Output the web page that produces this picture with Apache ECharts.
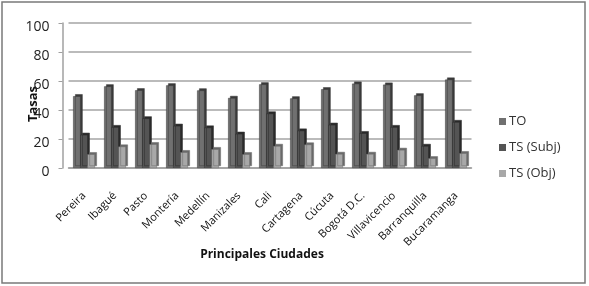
<!DOCTYPE html>
<html><head><meta charset="utf-8">
<script src="https://cdn.jsdelivr.net/npm/echarts@6/dist/echarts.min.js"></script>
<style>html,body{margin:0;padding:0;background:#fff}#c{width:589px;height:286px}</style>
</head><body><div id="c"></div>
<script>
const categories = ["Pereira","Ibagué","Pasto","Montería","Medellín","Manizales","Cali","Cartagena","Cúcuta","Bogotá D.C.","Villavicencio","Barranquilla","Bucaramanga"];
const seriesNames = ["TO","TS (Subj)","TS (Obj)"];
const valuesTO   = [49.5,56.3,53.6,57.0,53.5,48.3,57.7,48.0,54.3,58.2,57.5,50.1,61.0];
const valuesSubj = [22.9,28.2,34.2,29.1,27.9,23.6,37.6,25.8,29.8,24.0,28.2,15.2,31.7];
const valuesObj  = [9.5,14.8,16.4,10.9,13.0,9.5,15.2,16.2,9.7,9.7,12.5,6.7,10.2];
const yTicks = [0,20,40,60,80,100];

const font = "'Open Sans', 'Liberation Sans', sans-serif";
const colors = ['#707070','#545454','#a8a8a8'];
const sides = ['#3a3a3a','#2a2a2a','#6a6a6a'];
const data = [valuesTO, valuesSubj, valuesObj];

const chart = echarts.init(document.getElementById('c'), null, {renderer:'canvas'});
chart.setOption({
  animation:false,
  textStyle:{fontFamily:font},
  graphic:[
    {type:'rect', shape:{x:2,y:2,width:583,height:281}, style:{fill:'none', stroke:'#7a7a7a', lineWidth:1.5}, silent:true},
    {type:'text', x:262, y:255, style:{text:'Principales Ciudades', font:"bold 12px 'Open Sans', sans-serif", fill:'#111', textAlign:'center', textVerticalAlign:'middle'}, silent:true},
    {type:'text', x:33, y:104, rotation:Math.PI/2, style:{text:'Tasas', font:"bold 13px 'Open Sans', sans-serif", fill:'#111', textAlign:'center', textVerticalAlign:'middle'}, silent:true}
  ],
  legend:{
    orient:'vertical', left:494, top:110, itemWidth:7, itemHeight:7, itemGap:13,
    icon:'rect', data:seriesNames,
    itemStyle:{borderWidth:0, shadowBlur:0, shadowOffsetX:0, shadowOffsetY:0},
    textStyle:{fontSize:13, color:'#333', fontFamily:font, padding:[0,0,0,-2]}
  },
  grid:{left:68.5, right:117.5, top:23, bottom:118},
  xAxis:{
    type:'category', data:categories,
    axisLine:{show:true, lineStyle:{color:'#a0a0a0', width:1.5}},
    axisTick:{show:false},
    axisLabel:{rotate:45, fontSize:11, color:'#111', margin:26, interval:0, fontFamily:font}
  },
  yAxis:{
    type:'value', min:0, max:100, interval:20, offset:6,
    axisLine:{show:true, lineStyle:{color:'#a0a0a0', width:1.5}},
    axisTick:{show:true, length:4, lineStyle:{color:'#a0a0a0'}},
    axisLabel:{fontSize:14, color:'#222', margin:13, fontFamily:font, verticalAlign:'top', lineHeight:8,
      formatter:v=>yTicks.includes(v)?String(v):''},
    splitLine:{lineStyle:{color:'#a5a5a5', width:1.5}}
  },
  series: seriesNames.map((n,i)=>({
    name:n, type:'bar', data:data[i], barWidth:7.5, barGap:'-5%', barCategoryGap:'25%',
    itemStyle:{color:colors[i], borderColor:sides[i], borderWidth:0.5,
      shadowColor:sides[i], shadowOffsetX:2, shadowOffsetY:-2, shadowBlur:0}
  }))
});
</script></body></html>
